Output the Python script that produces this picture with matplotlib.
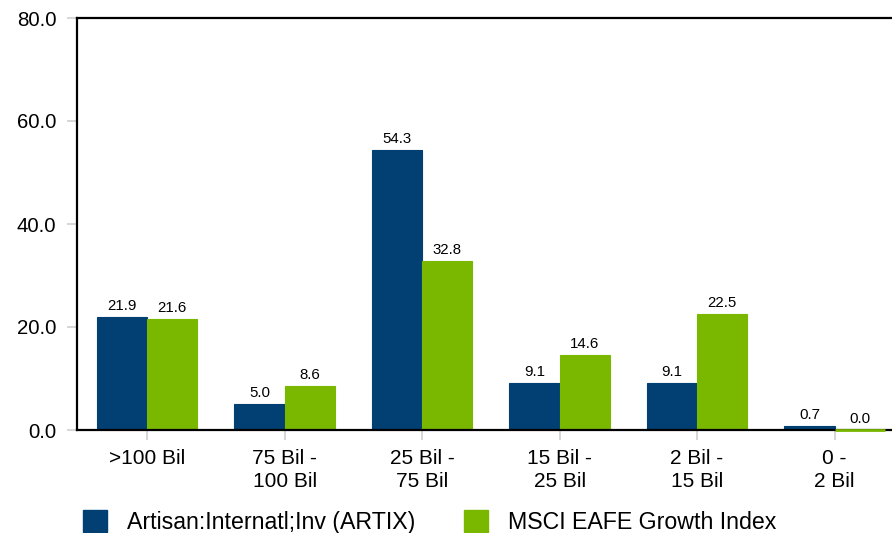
import matplotlib
matplotlib.use("Agg")
import matplotlib.pyplot as plt
from matplotlib.patches import Patch
import numpy as np

plt.rcParams['font.family'] = ['Liberation Sans', 'DejaVu Sans']

categories = [">100 Bil", "75 Bil -\n100 Bil", "25 Bil -\n75 Bil",
              "15 Bil -\n25 Bil", "2 Bil -\n15 Bil", "0 -\n2 Bil"]
artix = [21.9, 5.0, 54.3, 9.1, 9.1, 0.7]
msci = [21.6, 8.6, 32.8, 14.6, 22.5, 0.0]
series_names = ["Artisan:Internatl;Inv (ARTIX)", "MSCI EAFE Growth Index"]
yticks = [0, 20, 40, 60, 80]

blue = "#023f72"
green = "#7ab800"

fig = plt.figure(figsize=(8.92, 5.33), dpi=100)
ax = fig.add_axes([77/892, 103/533, 1 - 77/892, 412/533])

x = np.arange(len(categories))
w = 0.365
b1 = ax.bar(x - w/2, artix, w, color=blue, edgecolor=blue, linewidth=0.8)
b2 = ax.bar(x + w/2, msci, w, color=green, edgecolor=green, linewidth=0.8)

for bars, vals in [(b1, artix), (b2, msci)]:
    for r, v in zip(bars, vals):
        if v == 0:
            # zero bar shows as a thin line over the axis
            r.set_clip_on(False)
            r.set_zorder(3)
            r.set_linewidth(2)
        ax.annotate(f"{v:.1f}", (r.get_x() + r.get_width()/2, v),
                    xytext=(0, 3), textcoords="offset points",
                    ha="center", va="bottom", fontsize=10.8)

ax.set_xlim(-0.51, 5.418)
ax.set_ylim(0, 80)
ax.set_yticks(yticks)
ax.set_yticklabels([f"{t:.1f}" for t in yticks], fontsize=14.7)
ax.set_xticks(x)
ax.set_xticklabels(categories, fontsize=15, linespacing=1.27)
ax.tick_params(axis="both", length=7.5, width=1.2, color="#d0d0d0", pad=7.5)
ax.tick_params(axis="x", pad=6.5)

for s in ["left", "bottom", "top"]:
    ax.spines[s].set_linewidth(1.6)
    ax.spines[s].set_color("black")
ax.spines["right"].set_visible(False)

handles = [Patch(color=blue), Patch(color=green)]
fig.legend(handles, series_names, loc="upper left",
           bbox_to_anchor=(83/892, 1 - 510/533), ncol=2, frameon=False,
           fontsize=16.7, handlelength=1.05, handleheight=1.05,
           handletextpad=0.85, columnspacing=2.1, borderpad=0, borderaxespad=0)

fig.savefig("out.png", dpi=100)
